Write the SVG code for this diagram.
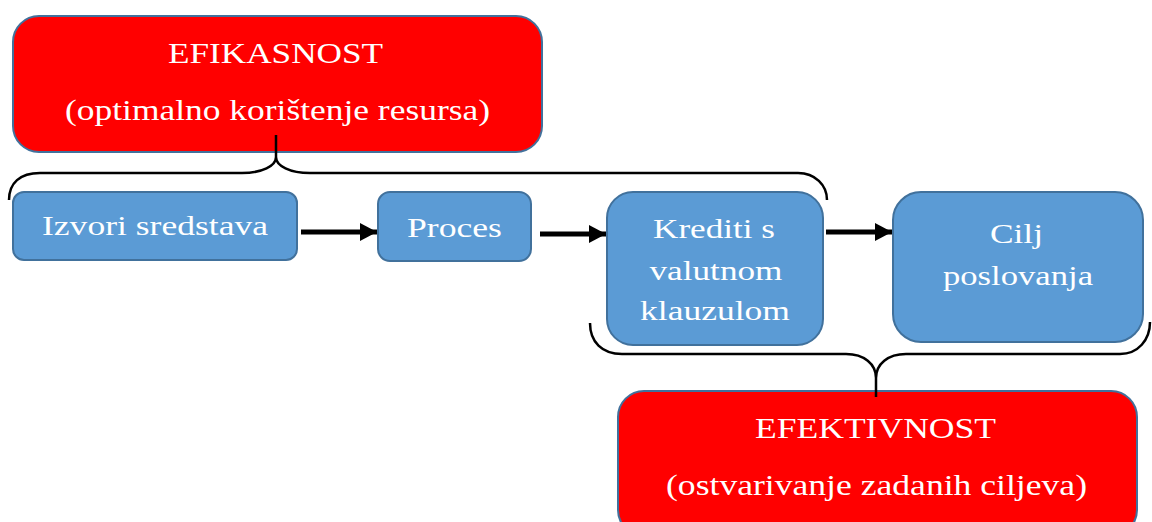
<svg xmlns="http://www.w3.org/2000/svg" width="1152" height="522" viewBox="0 0 1152 522">
<defs>
<style>
.red{fill:#FF0000;stroke:#41719C;stroke-width:2}
.blue{fill:#5B9BD5;stroke:#41719C;stroke-width:2}
.t{fill:#FFFFFF;font-family:"Liberation Serif","Times New Roman",serif;font-size:28px}
.tr{fill:#FFFFFF;font-family:"Liberation Serif","Times New Roman",serif;font-size:30px}
.brace{fill:none;stroke:#000;stroke-width:2.5}
.arrow{fill:none;stroke:#000;stroke-width:5}
</style>
<marker id="ah" markerUnits="userSpaceOnUse" markerWidth="18" markerHeight="20" refX="17" refY="10" orient="auto">
<path d="M0,1 L17,10 L0,19 Z" fill="#000"/>
</marker>
</defs>
<rect width="1152" height="522" fill="#FFFFFF"/>

<g id="efikasnost">
<rect class="red" x="13" y="16" width="529" height="136" rx="26"/>
<text class="tr" x="275.5" y="63" text-anchor="middle" textLength="215" lengthAdjust="spacingAndGlyphs">EFIKASNOST</text>
<text class="tr" x="277.5" y="120" text-anchor="middle" textLength="425" lengthAdjust="spacingAndGlyphs">(optimalno korištenje resursa)</text>
</g>

<g id="izvori">
<rect class="blue" x="13" y="192" width="284" height="68" rx="11"/>
<text class="t" x="155" y="235" text-anchor="middle" textLength="226" lengthAdjust="spacingAndGlyphs">Izvori sredstava</text>
</g>

<g id="proces">
<rect class="blue" x="378" y="192" width="153" height="69" rx="12"/>
<text class="t" x="454.5" y="237" text-anchor="middle" textLength="95" lengthAdjust="spacingAndGlyphs">Proces</text>
</g>

<g id="krediti">
<rect class="blue" x="607" y="192" width="216" height="153" rx="26"/>
<text class="t" x="714" y="238" text-anchor="middle" textLength="122" lengthAdjust="spacingAndGlyphs">Krediti s</text>
<text class="t" x="716" y="280" text-anchor="middle" textLength="133" lengthAdjust="spacingAndGlyphs">valutnom</text>
<text class="t" x="715" y="320" text-anchor="middle" textLength="150" lengthAdjust="spacingAndGlyphs">klauzulom</text>
</g>

<g id="cilj">
<rect class="blue" x="893" y="192" width="250" height="150" rx="28"/>
<text class="t" x="1016.5" y="243" text-anchor="middle" textLength="53" lengthAdjust="spacingAndGlyphs">Cilj</text>
<text class="t" x="1018" y="285" text-anchor="middle" textLength="150" lengthAdjust="spacingAndGlyphs">poslovanja</text>
</g>

<g id="efektivnost">
<rect class="red" x="618" y="391" width="519" height="145" rx="26"/>
<text class="tr" x="875.5" y="438" text-anchor="middle" textLength="241" lengthAdjust="spacingAndGlyphs">EFEKTIVNOST</text>
<text class="tr" x="876.5" y="495" text-anchor="middle" textLength="421" lengthAdjust="spacingAndGlyphs">(ostvarivanje zadanih ciljeva)</text>
</g>

<g id="connectors">
<path class="brace" d="M9,200 C9,183 20,173 40,173 L242,173 C262,173 276,166 276,157 L276,135 M276,157 C276,166 290,173 310,173 L798,173 C815,173 827,185 827,200"/>
<path class="brace" d="M590,323 C590,342 602,354 622,354 L846,354 C864,354 876,364 876,378 L876,397 M876,378 C876,364 888,354 906,354 L1120,354 C1138,354 1150,340 1150,322"/>
<line class="arrow" x1="301" y1="232" x2="377" y2="232" marker-end="url(#ah)"/>
<line class="arrow" x1="540" y1="234" x2="606" y2="234" marker-end="url(#ah)"/>
<line class="arrow" x1="826" y1="232" x2="892" y2="232" marker-end="url(#ah)"/>
</g>
</svg>
